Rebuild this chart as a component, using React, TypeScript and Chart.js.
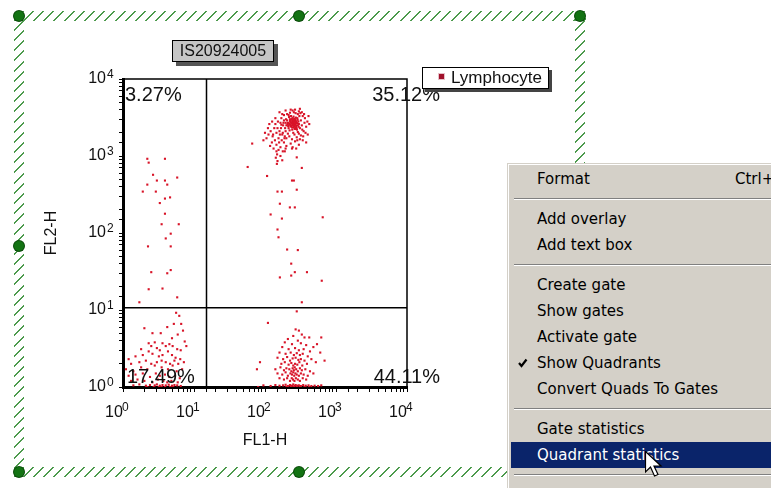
import React, { useEffect, useRef } from 'react';
import { Chart, registerables } from 'chart.js';

Chart.register(...registerables);

// ---------- content ----------
const SAMPLE_NAME = 'IS20924005';
const SERIES_NAME = 'Lymphocyte';
const X_TITLE = 'FL1-H';
const Y_TITLE = 'FL2-H';
const AXIS_MIN = 1;
const AXIS_MAX = 10000;
const DECADE_BASE = '10';
const DECADE_EXPONENTS = ['0', '1', '2', '3', '4'];
const QUAD_X = 15;
const QUAD_Y = 10.7;
const QUAD_PCT = ['3.27%', '35.12%', '17.49%', '44.11%']; // UL, UR, LL, LR

const MENU_ITEMS: { label?: string; shortcut?: string; checked?: boolean; active?: boolean; sep?: boolean }[] = [
  { label: 'Format', shortcut: 'Ctrl+' },
  { sep: true },
  { label: 'Add overlay' },
  { label: 'Add text box' },
  { sep: true },
  { label: 'Create gate' },
  { label: 'Show gates' },
  { label: 'Activate gate' },
  { label: 'Show Quadrants', checked: true },
  { label: 'Convert Quads To Gates' },
  { sep: true },
  { label: 'Gate statistics' },
  { label: 'Quadrant statistics', active: true },
  { sep: true },
  { label: '' },
];

// ---------- events (FL1-H, FL2-H) ----------
const urCore: [number, number][] = [
  [200, 2500], [210, 2700], [220, 2600], [230, 2800], [240, 2500], [250, 2700], [260, 2600], [270, 2900], [280, 2700], [290, 2500],
  [205, 2900], [215, 2300], [225, 3000], [235, 2400], [245, 3100], [255, 2350], [265, 3000], [275, 2450], [285, 3100], [295, 2800],
  [195, 2700], [212, 2450], [228, 2750], [238, 2950], [248, 2650], [258, 2850], [268, 2550], [278, 2300], [288, 2950], [300, 2600],
  [218, 3200], [232, 3300], [252, 3250], [272, 3150], [242, 2200], [262, 2250], [222, 2150], [282, 2200], [236, 2650], [246, 2850],
  [226, 2550], [256, 2450], [266, 2750], [208, 2600], [298, 2400], [232, 2450], [244, 2750], [250, 2950], [262, 2500], [274, 2650],
  [215, 2650], [225, 2850], [235, 2700], [245, 2600], [255, 2800], [265, 2650], [275, 2800], [285, 2650], [228, 2450], [252, 2550],
  [272, 2350], [238, 3050], [258, 3050], [242, 2350], [268, 2250],
  [150, 2300], [160, 2100], [165, 2700], [175, 1900], [180, 2500], [170, 3100], [185, 3400], [190, 1800], [195, 2100], [185, 2900],
  [310, 2300], [320, 2900], [330, 2500], [340, 3300], [350, 2100], [315, 3600], [300, 3800], [290, 3500], [270, 3600], [255, 3700],
  [200, 1700], [220, 1800], [240, 1650], [260, 1900], [280, 1750], [300, 1950], [320, 1850], [210, 1950], [250, 2000], [290, 2050],
  [140, 2600], [155, 1700], [360, 2700], [380, 2400], [345, 1800], [330, 3700], [175, 3500], [205, 3500], [225, 3650], [365, 3100],
  [130, 1900], [125, 1500], [145, 1400], [165, 1300], [185, 1500], [200, 1350], [230, 1450], [245, 1300], [265, 1550], [240, 1250],
  [275, 1250], [300, 1400], [400, 1900], [420, 2600], [410, 3300], [310, 4100], [230, 4000], [160, 3700], [380, 1500], [110, 2300],
  [100, 2000], [105, 1700], [115, 2600], [120, 2100], [128, 1800], [135, 2300], [138, 1600], [145, 2000], [152, 2800], [158, 1500],
  [162, 1900], [168, 2300], [172, 1600], [178, 2000], [182, 2700], [188, 1700], [192, 2300], [198, 3000], [170, 2550], [140, 3100],
  [95, 1600], [118, 1350], [132, 1250], [155, 1200], [178, 1150], [195, 1250], [112, 1900], [126, 2800], [305, 3300], [335, 2200],
  [355, 3500], [372, 2000], [395, 2800], [340, 1600], [310, 1650], [285, 1600], [265, 4000], [245, 3900], [195, 3900], [215, 3400],
];

const urTail: [number, number][] = [
  [145, 1150], [148, 1050], [142, 950], [150, 860], [147, 790], [165, 1000], [175, 880], [190, 1150],
  [66, 1450], [57, 720], [107, 550], [240, 480], [255, 480], [280, 960], [330, 700], [150, 345], [173, 345],
  [280, 365], [162, 240], [120, 174], [224, 215], [263, 215], [173, 154], [650, 160], [150, 111], [155, 88],
  [205, 61], [290, 60], [234, 40], [162, 26.5], [234, 28], [263, 31], [390, 31], [630, 24], [330, 12.6],
];

const ulEvents: [number, number][] = [
  [2.2, 920], [2.3, 820], [3.9, 920], [2.65, 570], [5.8, 525], [2.2, 425], [3.0, 480], [3.9, 480], [4.2, 425],
  [1.9, 345], [2.9, 345], [4.6, 290], [3.9, 280], [3.3, 245], [3.9, 178], [3.5, 130], [6.1, 130], [4.7, 98],
  [4.0, 85], [2.25, 67], [4.7, 67], [2.5, 31], [4.2, 30], [4.7, 33], [2.3, 18.6], [3.6, 19], [1.7, 12.6], [5.8, 14.6],
];

const llEvents: [number, number][] = [
  [5.6, 9.2], [6.2, 8.4], [5.2, 6.6], [4.2, 6.0], [6.6, 6.6], [2.0, 5.8], [2.6, 5.0], [3.4, 5.0], [5.9, 4.8], [7.0, 5.4],
  [4.9, 4.3], [2.8, 3.8], [2.3, 3.7], [3.6, 3.7], [4.5, 3.6], [7.4, 3.9], [1.8, 3.1], [2.5, 3.4], [3.0, 3.2], [3.3, 3.0],
  [4.0, 3.4], [5.0, 3.4], [5.8, 3.1], [6.5, 3.0], [7.8, 3.4],
  [1.2, 2.3], [1.5, 2.5], [1.9, 2.6], [2.3, 2.9], [2.6, 2.7], [3.2, 2.5], [3.6, 2.6], [4.3, 2.9], [4.9, 2.6], [5.5, 2.4],
  [6.4, 2.3], [1.3, 2.0], [1.7, 2.1], [2.1, 2.2], [2.5, 2.0], [3.0, 2.1], [3.5, 2.2], [4.0, 2.1], [4.6, 2.0], [5.3, 2.2],
  [6.0, 2.0], [7.2, 2.1],
  [1.1, 1.7], [1.4, 1.6], [1.8, 1.8], [2.2, 1.7], [2.8, 1.9], [3.5, 1.8], [4.3, 1.7], [5.0, 1.9], [5.7, 1.6], [6.8, 1.7],
  [1.2, 1.4], [1.5, 1.45], [1.9, 1.5], [2.4, 1.35], [2.9, 1.5], [3.3, 1.4], [3.9, 1.45], [4.5, 1.35], [5.4, 1.4], [6.3, 1.3],
  [1.3, 1.2], [1.6, 1.25], [2.0, 1.2], [2.6, 1.15], [3.1, 1.25], [3.7, 1.2], [4.2, 1.15], [4.8, 1.2], [5.9, 1.15],
  [1.4, 1.05], [1.7, 1.08], [2.1, 1.04], [2.4, 1.06], [2.8, 1.05], [3.0, 1.08], [3.3, 1.04], [3.6, 1.06], [4.0, 1.05],
  [4.4, 1.07], [4.9, 1.04], [5.3, 1.06], [5.8, 1.05], [6.5, 1.03], [2.2, 1.0], [2.7, 1.0], [3.2, 1.0], [3.5, 1.0],
  [3.9, 1.0], [4.6, 1.0], [5.1, 1.0],
];

const lrEvents: [number, number][] = [
  [280, 9.6], [110, 6.8], [270, 5.6], [300, 5.4], [330, 4.8], [250, 4.6], [360, 4.4], [420, 4.4], [210, 4.2], [290, 4.0],
  [190, 3.8], [240, 3.6], [320, 3.7], [380, 3.5], [480, 3.3], [175, 3.3], [215, 3.1], [265, 3.2], [300, 3.0], [350, 3.1],
  [430, 2.9], [620, 4.4], [540, 3.6], [690, 2.2], [600, 2.8], [77, 1.7], [85, 2.1],
  [160, 2.8], [195, 2.7], [230, 2.8], [255, 2.6], [280, 2.75], [310, 2.6], [340, 2.7], [400, 2.5], [150, 2.4], [180, 2.3],
  [205, 2.45], [225, 2.2], [245, 2.35], [270, 2.4], [295, 2.25], [320, 2.3], [360, 2.2], [450, 2.3], [170, 2.0], [190, 2.1],
  [215, 1.95], [235, 2.05], [250, 1.9], [265, 2.0], [285, 1.95], [305, 2.1], [335, 1.9], [390, 2.0], [520, 2.1],
  [140, 1.7], [165, 1.8], [185, 1.65], [200, 1.75], [220, 1.7], [235, 1.6], [245, 1.75], [255, 1.65], [262, 1.8], [275, 1.7],
  [290, 1.6], [310, 1.75], [330, 1.65], [370, 1.7], [430, 1.6], [150, 1.5], [175, 1.45], [195, 1.55], [210, 1.4], [228, 1.5],
  [240, 1.45], [250, 1.55], [258, 1.4], [268, 1.5], [280, 1.45], [300, 1.4], [320, 1.5], [350, 1.45], [400, 1.4], [480, 1.5],
  [160, 1.3], [185, 1.25], [205, 1.3], [225, 1.2], [238, 1.3], [248, 1.25], [260, 1.2], [272, 1.3], [290, 1.25], [310, 1.2],
  [340, 1.3], [380, 1.25],
  [95, 1.05], [120, 1.03], [140, 1.06], [160, 1.04], [180, 1.05], [195, 1.07], [210, 1.03], [225, 1.06], [240, 1.04], [250, 1.08],
  [260, 1.03], [270, 1.06], [285, 1.04], [300, 1.05], [320, 1.03], [345, 1.06], [375, 1.04], [410, 1.05], [450, 1.03], [500, 1.04],
  [560, 1.03], [620, 1.05], [200, 1.0], [230, 1.0], [255, 1.0], [280, 1.0], [310, 1.0], [360, 1.0], [420, 1.0], [80, 1.0],
];

// ---------- plugins ----------
const FONT = '"Liberation Sans", Arial, sans-serif';

const decadeIndex = (v: any) => {
  const e = Math.log10(Number(v));
  const r = Math.round(e);
  return Math.abs(e - r) < 1e-6 ? r : -1;
};

const decadeLabel = (v: any) => (decadeIndex(v) >= 0 ? DECADE_BASE : '');

const plotFramePlugin = {
  id: 'plotFrame',
  beforeDatasetsDraw(chart: any) {
    const { ctx, chartArea: a } = chart;
    ctx.save();
    ctx.strokeStyle = '#000';
    ctx.lineWidth = 1.5;
    ctx.beginPath();
    ctx.moveTo(a.left, a.top);
    ctx.lineTo(a.right, a.top);
    ctx.lineTo(a.right, a.bottom);
    ctx.stroke();
    ctx.restore();
  },
};

// exponent of each decade tick label (the "10" comes from the axis itself)
const exponentPlugin = {
  id: 'decadeExponents',
  afterDraw(chart: any) {
    const { ctx, chartArea: a } = chart;
    const xs = chart.scales.x;
    const ys = chart.scales.y;
    ctx.save();
    ctx.font = `12px ${FONT}`;
    ctx.fillStyle = '#111';
    ctx.textBaseline = 'alphabetic';
    ctx.textAlign = 'left';
    const xLabelTop = a.bottom + xs.options.grid.tickLength + xs.options.ticks.padding;
    xs.ticks.forEach((t: any) => {
      const e = decadeIndex(t.value);
      if (e < 0) return;
      ctx.fillText(DECADE_EXPONENTS[e], xs.getPixelForValue(t.value) - 1, xLabelTop + 8);
    });
    const yLabelRight = a.left - ys.options.grid.tickLength - ys.options.ticks.padding;
    ys.ticks.forEach((t: any) => {
      const e = decadeIndex(t.value);
      if (e < 0) return;
      ctx.fillText(DECADE_EXPONENTS[e], yLabelRight + 1, ys.getPixelForValue(t.value) - 1);
    });
    ctx.restore();
  },
};

const quadLabelPlugin = {
  id: 'quadLabels',
  afterDraw(chart: any) {
    const { ctx, chartArea: a } = chart;
    ctx.save();
    ctx.font = `20px ${FONT}`;
    ctx.fillStyle = '#111';
    ctx.textBaseline = 'alphabetic';
    ctx.textAlign = 'left';
    ctx.fillText(QUAD_PCT[0], a.left + 2, a.top + 22);
    ctx.fillText(QUAD_PCT[2], a.left + 4, a.bottom - 4);
    ctx.textAlign = 'right';
    ctx.fillText(QUAD_PCT[1], a.right + 33, a.top + 22);
    ctx.fillText(QUAD_PCT[3], a.right + 33, a.bottom - 4);
    ctx.restore();
  },
};

function FlowChart() {
  const ref = useRef<HTMLCanvasElement>(null);
  useEffect(() => {
    if (!ref.current) return;
    const events = [...urCore, ...urTail, ...ulEvents, ...llEvents, ...lrEvents].map(([x, y]) => ({ x, y }));
    const chart = new Chart(ref.current, {
      type: 'scatter',
      data: {
        datasets: [
          {
            label: 'quad-x',
            data: [{ x: QUAD_X, y: AXIS_MIN }, { x: QUAD_X, y: AXIS_MAX }],
            showLine: true,
            borderColor: '#000',
            borderWidth: 1.5,
            pointRadius: 0,
          },
          {
            label: 'quad-y',
            data: [{ x: AXIS_MIN, y: QUAD_Y }, { x: AXIS_MAX, y: QUAD_Y }],
            showLine: true,
            borderColor: '#000',
            borderWidth: 1.5,
            pointRadius: 0,
          },
          {
            label: SERIES_NAME,
            data: events,
            pointStyle: 'rect',
            pointRadius: 1.5,
            borderWidth: 0,
            backgroundColor: '#d81428',
          },
        ],
      },
      options: {
        animation: false,
        responsive: false,
        devicePixelRatio: 1,
        events: [],
        layout: { padding: { left: 0, top: 79, right: 364, bottom: 0 } },
        plugins: { legend: { display: false }, tooltip: { enabled: false } },
        scales: {
          x: {
            type: 'logarithmic',
            min: AXIS_MIN,
            max: AXIS_MAX,
            position: 'bottom',
            afterFit: (s: any) => {
              s.height = 101;
              s.paddingLeft = 0;
              s.paddingRight = 0;
            },
            border: { display: true, color: '#000', width: 3 },
            grid: { drawOnChartArea: false, drawTicks: true, tickLength: 5, color: '#000', lineWidth: 1 },
            ticks: {
              autoSkip: false,
              maxRotation: 0,
              padding: 11,
              labelOffset: -9,
              color: '#111',
              font: { family: FONT, size: 16 },
              callback: decadeLabel,
            },
            title: {
              display: true,
              text: X_TITLE,
              color: '#111',
              font: { family: FONT, size: 16 },
              padding: { top: 0, bottom: 38 },
            },
          },
          y: {
            type: 'logarithmic',
            min: AXIS_MIN,
            max: AXIS_MAX,
            position: 'left',
            afterFit: (s: any) => {
              s.width = 123;
              s.paddingTop = 0;
              s.paddingBottom = 0;
            },
            border: { display: true, color: '#000', width: 3 },
            grid: { drawOnChartArea: false, drawTicks: true, tickLength: 4, color: '#000', lineWidth: 1 },
            ticks: {
              autoSkip: false,
              padding: 13,
              color: '#111',
              font: { family: FONT, size: 16 },
              callback: decadeLabel,
            },
            title: {
              display: true,
              text: Y_TITLE,
              color: '#111',
              font: { family: FONT, size: 16 },
              padding: { top: 42, bottom: 0 },
            },
          },
        },
      },
      plugins: [plotFramePlugin, exponentPlugin, quadLabelPlugin],
    } as any);
    return () => chart.destroy();
  }, []);
  return (
    <canvas
      ref={ref}
      width={771}
      height={488}
      style={{ position: 'absolute', left: 0, top: 0, width: 771, height: 488 }}
    />
  );
}

const hatch = 'repeating-linear-gradient(135deg, transparent 0px, transparent 5.8px, #4c9a4c 5.8px, #4c9a4c 7.2px)';

function Handle({ x, y }: { x: number; y: number }) {
  return (
    <div
      style={{
        position: 'absolute',
        left: x - 5,
        top: y - 5,
        width: 10,
        height: 10,
        borderRadius: '50%',
        background: '#137313',
        boxShadow: '0 0 0 1px #0a4a0a',
      }}
    />
  );
}

function ContextMenu() {
  return (
    <div
      style={{
        position: 'absolute',
        left: 507,
        top: 163,
        width: 300,
        height: 340,
        background: '#d4d0c8',
        border: '1px solid #d4d0c8',
        boxShadow: 'inset 1px 1px 0 #ffffff',
        paddingTop: 2,
        boxSizing: 'border-box',
        fontFamily: '"DejaVu Sans", sans-serif',
        fontSize: 15,
        color: '#000',
      }}
    >
      {MENU_ITEMS.map((it, i) => {
        if (it.sep) {
          return (
            <div key={i} style={{ height: 14, position: 'relative' }}>
              <div
                style={{
                  position: 'absolute',
                  left: 6,
                  right: 0,
                  top: 6,
                  borderTop: '1px solid #808080',
                  borderBottom: '1px solid #ffffff',
                }}
              />
            </div>
          );
        }
        return (
          <div
            key={i}
            style={{
              height: 26,
              lineHeight: '26px',
              marginLeft: 3,
              paddingLeft: 26,
              position: 'relative',
              whiteSpace: 'nowrap',
              background: it.active ? '#0a246a' : 'transparent',
              color: it.active ? '#ffffff' : '#000',
            }}
          >
            {it.checked && (
              <svg width={10} height={10} style={{ position: 'absolute', left: 7, top: 8 }}>
                <polyline points="1,5 3.5,8 8.5,1.5" fill="none" stroke="#000" strokeWidth={2.2} />
              </svg>
            )}
            {it.label}
            {it.shortcut && <span style={{ position: 'absolute', left: 224 }}>{it.shortcut}</span>}
          </div>
        );
      })}
    </div>
  );
}

export default function App() {
  return (
    <div
      style={{
        position: 'fixed',
        left: 0,
        top: 0,
        width: 771,
        height: 488,
        overflow: 'hidden',
        background: '#ffffff',
      }}
    >
      {/* selection frame */}
      <div style={{ position: 'absolute', left: 14, top: 11, width: 572, height: 10, background: hatch }} />
      <div style={{ position: 'absolute', left: 14, top: 467, width: 572, height: 10, background: hatch }} />
      <div style={{ position: 'absolute', left: 14, top: 11, width: 10, height: 466, background: hatch }} />
      <div style={{ position: 'absolute', left: 575, top: 11, width: 10, height: 466, background: hatch }} />
      <Handle x={19} y={16} />
      <Handle x={299} y={16} />
      <Handle x={580} y={16} />
      <Handle x={19} y={246} />
      <Handle x={580} y={246} />
      <Handle x={19} y={472} />
      <Handle x={299} y={472} />
      <Handle x={580} y={472} />

      <FlowChart />

      {/* sample name box */}
      <div
        style={{
          position: 'absolute',
          left: 172,
          top: 40,
          width: 102,
          height: 22,
          boxSizing: 'border-box',
          background: '#c6c6c6',
          border: '1px solid #000',
          boxShadow: '4px 4px 0 #555',
          fontFamily: FONT,
          fontSize: 16,
          lineHeight: '20px',
          textAlign: 'center',
          color: '#111',
        }}
      >
        {SAMPLE_NAME}
      </div>

      {/* legend */}
      <div
        style={{
          position: 'absolute',
          left: 422,
          top: 67,
          width: 127,
          height: 22,
          boxSizing: 'border-box',
          background: '#fff',
          border: '1px solid #000',
          boxShadow: '3px 3px 0 #444',
          fontFamily: FONT,
          fontSize: 17,
          lineHeight: '20px',
          color: '#111',
        }}
      >
        <div
          style={{
            position: 'absolute',
            left: 16,
            top: 6,
            width: 5,
            height: 5,
            background: '#a0102a',
            boxShadow: '0 0 0 1px #e6c0c8',
          }}
        />
        <span style={{ position: 'absolute', left: 28, top: 0 }}>{SERIES_NAME}</span>
      </div>

      <ContextMenu />

      {/* mouse pointer */}
      <svg width={24} height={30} style={{ position: 'absolute', left: 645, top: 451 }}>
        <polygon
          points="0.5,0.5 0.5,21 5.5,16 9.5,25 13,23.5 9,15 16,15"
          fill="#fff"
          stroke="#000"
          strokeWidth={1.2}
        />
      </svg>
    </div>
  );
}
